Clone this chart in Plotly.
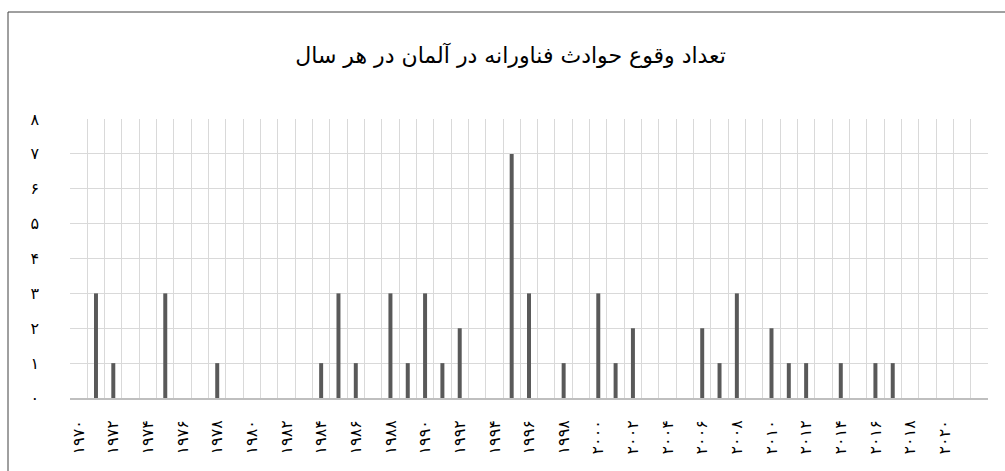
import plotly.graph_objects as go

years = list(range(1970, 2023))
counts = [0, 3, 1, 0, 0, 3, 0, 0, 1, 0,
          0, 0, 0, 0, 1, 3, 1, 0, 3, 1,
          3, 1, 2, 0, 0, 7, 3, 0, 1, 0,
          3, 1, 2, 0, 0, 0, 2, 1, 3, 0,
          2, 1, 1, 0, 1, 0, 1, 1, 0, 0,
          0, 0, 0]

tick_years = list(range(1970, 2021, 2))
tick_labels = ["۱۹۷۰", "۱۹۷۲", "۱۹۷۴", "۱۹۷۶", "۱۹۷۸", "۱۹۸۰", "۱۹۸۲", "۱۹۸۴",
               "۱۹۸۶", "۱۹۸۸", "۱۹۹۰", "۱۹۹۲", "۱۹۹۴", "۱۹۹۶", "۱۹۹۸", "۲۰۰۰",
               "۲۰۰۲", "۲۰۰۴", "۲۰۰۶", "۲۰۰۸", "۲۰۱۰", "۲۰۱۲", "۲۰۱۴", "۲۰۱۶",
               "۲۰۱۸", "۲۰۲۰"]
y_vals = list(range(0, 9))
y_labels = ["۰", "۱", "۲", "۳", "۴", "۵", "۶", "۷", "۸"]

title_text = "تعداد وقوع حوادث فناورانه در آلمان در هر سال"

FONT = "DejaVu Sans, sans-serif"

fig = go.Figure()
fig.add_trace(go.Bar(x=years, y=counts, width=0.23,
                     marker=dict(color="#595959", line=dict(width=0))))

L, R, T, B = 70, 17, 119, 73
W, H = 1005, 471
pw, ph = W - L - R, H - T - B

fig.update_layout(
    width=W, height=H,
    margin=dict(l=L, r=R, t=T, b=B, autoexpand=False),
    paper_bgcolor="white", plot_bgcolor="white",
    showlegend=False,
    font=dict(family=FONT, color="#000000"),
    title=dict(text=title_text, x=0.508, xanchor="center", y=0.882, yanchor="middle",
               font=dict(family=FONT, size=22, color="#000000")),
    xaxis=dict(range=[1969.5, 2022.5], tickmode="array", tickvals=tick_years,
               ticktext=tick_labels, tickangle=-90, showgrid=False,
               ticks="", ticklabelstandoff=14, automargin=False,
               tickfont=dict(family=FONT, size=16, color="#000000"),
               showline=True, linecolor="#bfbfbf", linewidth=1.5,
               minor=dict(tick0=1969.5, dtick=1, showgrid=True,
                          gridcolor="#d9d9d9", gridwidth=1, ticks=""),
               zeroline=False),
    yaxis=dict(range=[0, 8], tickmode="array", tickvals=y_vals, ticktext=y_labels,
               showgrid=True, gridcolor="#d9d9d9", gridwidth=1,
               ticks="", ticklabelstandoff=30, automargin=False,
               tickfont=dict(family=FONT, size=16, color="#000000"),
               zeroline=False, showline=False),
    shapes=[dict(type="rect", xref="paper", yref="paper",
                 x0=(8 - L) / pw, x1=(W + 5 - L) / pw,
                 y0=(H - B - (H + 5)) / ph, y1=(H - B - 12) / ph,
                 line=dict(color="#404040", width=1), fillcolor="rgba(0,0,0,0)",
                 layer="below")],
)

fig.write_html("out.html", config={"displayModeBar": False},
               post_script="document.body.style.margin='0';document.body.style.overflow='hidden';")
